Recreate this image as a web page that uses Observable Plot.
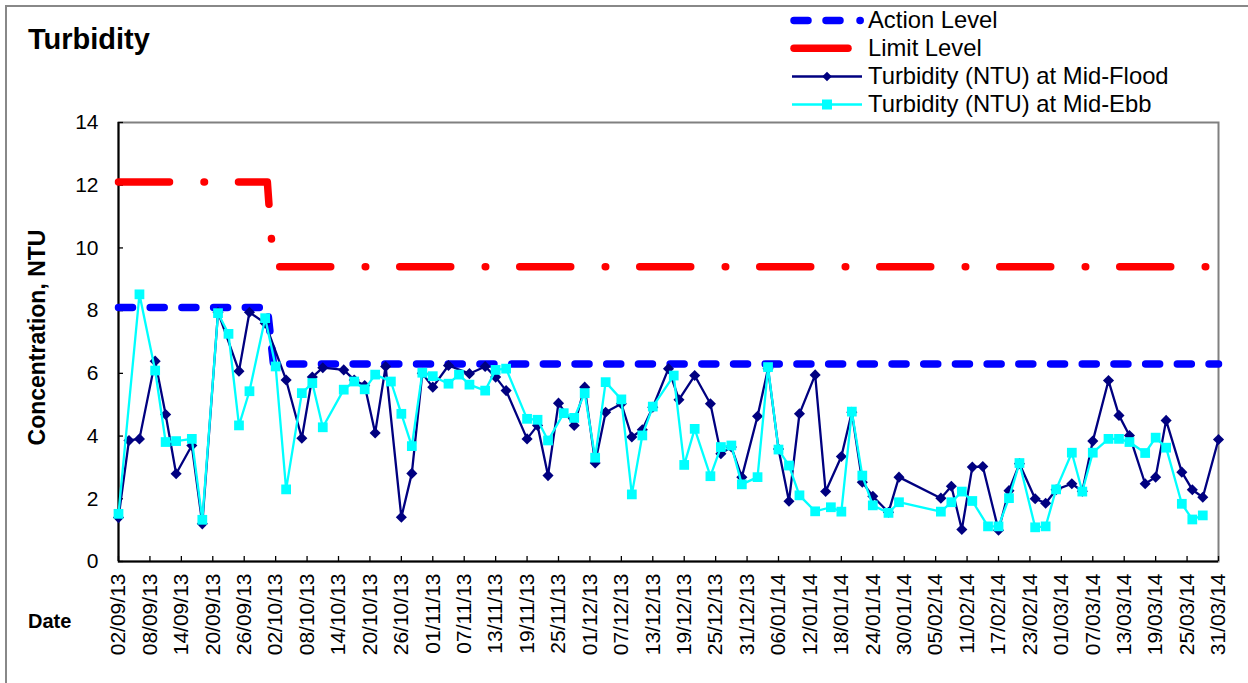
<!DOCTYPE html>
<html>
<head>
<meta charset="utf-8">
<script src="https://cdn.jsdelivr.net/npm/d3@7"></script>
<script src="https://cdn.jsdelivr.net/npm/@observablehq/plot@0.6"></script>
<style>
  body { margin: 0; background: #fff; }
  #wrap { position: relative; width: 1248px; height: 683px; overflow: hidden; font-family: Arial, "Liberation Sans", sans-serif; }
  #border { position: absolute; left: 5px; top: 5px; width: 1260px; height: 700px; border-left: 2px solid #888; border-top: 2px solid #888; }
  #chart { position: absolute; left: 0; top: 0; }
  #overlay { position: absolute; left: 0; top: 0; font-family: Arial, "Liberation Sans", sans-serif; }
</style>
</head>
<body>
<div id="wrap">
  <div id="border"></div>
  <div id="chart"></div>
  <svg id="overlay" width="1248" height="683"></svg>
</div>
<script>
// ---------- DATA ----------
const chartTitle = "Turbidity";
const yAxisTitle = "Concentration, NTU";
const xAxisTitle = "Date";

const tickLabels = ["02/09/13","08/09/13","14/09/13","20/09/13","26/09/13","02/10/13","08/10/13","14/10/13","20/10/13","26/10/13",
  "01/11/13","07/11/13","13/11/13","19/11/13","25/11/13","01/12/13","07/12/13","13/12/13","19/12/13","25/12/13","31/12/13",
  "06/01/14","12/01/14","18/01/14","24/01/14","30/01/14","05/02/14","11/02/14","17/02/14","23/02/14",
  "01/03/14","07/03/14","13/03/14","19/03/14","25/03/14","31/03/14"];
const yTicks = [0, 2, 4, 6, 8, 10, 12, 14];

const seriesNames = ["Action Level", "Limit Level", "Turbidity (NTU) at Mid-Flood", "Turbidity (NTU) at Mid-Ebb"];

const levelDates = ["2013-09-02", "2013-09-30T10:00Z", "2013-10-01T14:00Z", "2014-03-31"];
const actionLevel = [8.1, 8.1, 6.3, 6.3];
const limitLevel = [12.1, 12.1, 9.4, 9.4];

const floodDates = ["2013-09-02","2013-09-04","2013-09-06","2013-09-09","2013-09-11","2013-09-13","2013-09-16","2013-09-18","2013-09-21","2013-09-25",
  "2013-09-27","2013-09-30","2013-10-04","2013-10-07","2013-10-09","2013-10-11","2013-10-15","2013-10-17","2013-10-19","2013-10-21",
  "2013-10-23","2013-10-26","2013-10-28","2013-10-30","2013-11-01","2013-11-04","2013-11-08","2013-11-11","2013-11-13","2013-11-15",
  "2013-11-19","2013-11-21","2013-11-23","2013-11-25","2013-11-28","2013-11-30","2013-12-02","2013-12-04","2013-12-07","2013-12-09",
  "2013-12-11","2013-12-13","2013-12-16","2013-12-18","2013-12-21","2013-12-24","2013-12-26","2013-12-28","2013-12-30","2014-01-02",
  "2014-01-04","2014-01-06","2014-01-08","2014-01-10","2014-01-13","2014-01-15","2014-01-18","2014-01-20","2014-01-22","2014-01-24",
  "2014-01-27","2014-01-29","2014-02-06","2014-02-08","2014-02-10","2014-02-12","2014-02-14","2014-02-17","2014-02-19","2014-02-21",
  "2014-02-24","2014-02-26","2014-02-28","2014-03-03","2014-03-05","2014-03-07","2014-03-10","2014-03-12","2014-03-14","2014-03-17",
  "2014-03-19","2014-03-21","2014-03-24","2014-03-26","2014-03-28","2014-03-31"];
const floodValues = [1.4, 3.86, 3.91, 6.39, 4.69, 2.80, 3.70, 1.20, 7.95, 6.07,
  7.95, 7.6, 5.79, 3.93, 5.88, 6.18, 6.11, 5.79, 5.61, 4.10,
  6.22, 1.41, 2.81, 6.0, 5.56, 6.25, 5.99, 6.22, 5.88, 5.45,
  3.91, 4.34, 2.74, 5.05, 4.34, 5.56, 3.14, 4.76, 5.03, 3.97,
  4.20, 4.92, 6.15, 5.16, 5.93, 5.03, 3.44, 3.65, 2.69, 4.63,
  6.15, 3.59, 1.92, 4.71, 5.95, 2.23, 3.35, 4.76, 2.53, 2.08,
  1.57, 2.69, 2.02, 2.40, 1.02, 3.01, 3.03, 1.0, 2.26, 3.12,
  2.0, 1.86, 2.29, 2.48, 2.24, 3.84, 5.77, 4.66, 4.02, 2.48,
  2.69, 4.50, 2.85, 2.29, 2.05, 3.89];

const ebbDates = ["2013-09-02","2013-09-06","2013-09-09","2013-09-11","2013-09-13","2013-09-16","2013-09-18","2013-09-21","2013-09-23","2013-09-25",
  "2013-09-27","2013-09-30","2013-10-02","2013-10-04","2013-10-07","2013-10-09","2013-10-11","2013-10-15","2013-10-17","2013-10-19",
  "2013-10-21","2013-10-24","2013-10-26","2013-10-28","2013-10-30","2013-11-01","2013-11-04","2013-11-06","2013-11-08","2013-11-11",
  "2013-11-13","2013-11-15","2013-11-19","2013-11-21","2013-11-23","2013-11-26","2013-11-28","2013-11-30","2013-12-02","2013-12-04",
  "2013-12-07","2013-12-09","2013-12-11","2013-12-13","2013-12-17","2013-12-19","2013-12-21","2013-12-24","2013-12-26","2013-12-28",
  "2013-12-30","2014-01-02","2014-01-04","2014-01-06","2014-01-08","2014-01-10","2014-01-13","2014-01-16","2014-01-18","2014-01-20",
  "2014-01-22","2014-01-24","2014-01-27","2014-01-29","2014-02-06","2014-02-08","2014-02-10","2014-02-12","2014-02-15","2014-02-17",
  "2014-02-19","2014-02-21","2014-02-24","2014-02-26","2014-02-28","2014-03-03","2014-03-05","2014-03-07","2014-03-10","2014-03-12",
  "2014-03-14","2014-03-17","2014-03-19","2014-03-21","2014-03-24","2014-03-26","2014-03-28"];
const ebbValues = [1.52, 8.52, 6.09, 3.81, 3.84, 3.91, 1.33, 7.92, 7.26, 4.34,
  5.43, 7.76, 6.22, 2.30, 5.37, 5.69, 4.28, 5.48, 5.74, 5.49,
  5.96, 5.74, 4.71, 3.68, 6.02, 5.91, 5.67, 5.96, 5.64, 5.45,
  6.11, 6.15, 4.55, 4.52, 3.86, 4.73, 4.58, 5.37, 3.31, 5.72,
  5.17, 2.14, 4.02, 4.94, 5.93, 3.08, 4.23, 2.72, 3.65, 3.70,
  2.46, 2.69, 6.2, 3.57, 3.06, 2.11, 1.60, 1.73, 1.59, 4.78,
  2.74, 1.79, 1.55, 1.89, 1.59, 1.89, 2.23, 1.93, 1.12, 1.12,
  2.02, 3.14, 1.09, 1.12, 2.30, 3.47, 2.23, 3.47, 3.91, 3.91,
  3.81, 3.46, 3.95, 3.63, 1.84, 1.34, 1.47];

// ---------- BUILD ----------
const FONT = 'Arial, "Liberation Sans", sans-serif';
const parseTick = d3.utcParse("%d/%m/%y");
const tickDates = tickLabels.map(parseTick);
const flood = floodDates.map((d, i) => ({date: new Date(d), value: floodValues[i]}));
const ebb = ebbDates.map((d, i) => ({date: new Date(d), value: ebbValues[i]}));
const levels = levelDates.map((d, i) => ({date: new Date(d), action: actionLevel[i], limit: limitLevel[i]}));

const COLORS = {action: "#0000FF", limit: "#FF0000", flood: "#000080", ebb: "#00FFFF"};

const chart = Plot.plot({
  width: 1248,
  height: 683,
  marginLeft: 118,
  marginRight: 30,
  marginTop: 122,
  marginBottom: 122,
  style: {fontFamily: FONT, background: "transparent", color: "#000"},
  x: {type: "utc", domain: [tickDates[0], tickDates[tickDates.length - 1]], axis: null},
  y: {domain: [0, 14], axis: null},
  marks: [
    Plot.frame({stroke: "#808080", strokeWidth: 2}),
    Plot.ruleX([tickDates[0]], {stroke: "#000", strokeWidth: 2}),
    Plot.ruleY([0], {stroke: "#000", strokeWidth: 2}),
    Plot.tickX(tickDates, {x: d => d, insetTop: 434, stroke: "#000", strokeWidth: 1.3}),
    Plot.tickY(yTicks, {y: d => d, insetRight: 1095, stroke: "#000", strokeWidth: 1.3}),
    Plot.text(tickDates, {x: d => d, text: (d, i) => tickLabels[i], frameAnchor: "bottom", rotate: -90,
      textAnchor: "end", lineAnchor: "middle", dy: 12, fontSize: 21, fill: "#000"}),
    Plot.text(yTicks, {y: d => d, text: d => String(d), frameAnchor: "left", textAnchor: "end",
      lineAnchor: "middle", dx: -20, fontSize: 21, fill: "#000"}),
    Plot.line(levels, {x: "date", y: "limit", stroke: COLORS.limit, strokeWidth: 7.5,
      strokeLinecap: "round", strokeDasharray: "51 34.5 0.5 34"}),
    Plot.line(levels, {x: "date", y: "action", stroke: COLORS.action, strokeWidth: 7.5,
      strokeLinecap: "round", strokeDasharray: "14 17.7"}),
    Plot.line(flood, {x: "date", y: "value", stroke: COLORS.flood, strokeWidth: 2.3}),
    Plot.dot(flood, {x: "date", y: "value", symbol: "diamond2", r: 5, fill: COLORS.flood}),
    Plot.line(ebb, {x: "date", y: "value", stroke: COLORS.ebb, strokeWidth: 2.3}),
    Plot.dot(ebb, {x: "date", y: "value", symbol: "square", r: 5.5, fill: COLORS.ebb})
  ]
});
document.getElementById("chart").appendChild(chart);

// ---------- TITLES & LEGEND ----------
const ov = d3.select("#overlay");
ov.append("text").attr("x", 28).attr("y", 49).attr("font-size", 29).attr("font-weight", "bold")
  .attr("font-family", FONT).text(chartTitle);
ov.append("text").attr("transform", "translate(45,337.5) rotate(-90)").attr("text-anchor", "middle")
  .attr("font-size", 23).attr("font-weight", "bold").attr("font-family", FONT).text(yAxisTitle);
ov.append("text").attr("x", 28).attr("y", 628).attr("font-size", 20).attr("font-weight", "bold")
  .attr("font-family", FONT).text(xAxisTitle);

const rowY = [20.5, 48.3, 76.5, 104.5];
const lg = ov.append("g");
// Action level swatch
lg.append("path").attr("d", `M794,${rowY[0]}H808M826,${rowY[0]}H840M860,${rowY[0]}H860.2`)
  .attr("stroke", COLORS.action).attr("stroke-width", 7.5).attr("stroke-linecap", "round").attr("fill", "none");
// Limit level swatch
lg.append("path").attr("d", `M794,${rowY[1]}H848`)
  .attr("stroke", COLORS.limit).attr("stroke-width", 7.5).attr("stroke-linecap", "round").attr("fill", "none");
// Flood swatch
lg.append("path").attr("d", `M792,${rowY[2]}H862`).attr("stroke", COLORS.flood).attr("stroke-width", 2.3);
lg.append("path").attr("d", `M827,${rowY[2] - 4.8}L831.8,${rowY[2]}L827,${rowY[2] + 4.8}L822.2,${rowY[2]}Z`).attr("fill", COLORS.flood);
// Ebb swatch
lg.append("path").attr("d", `M792,${rowY[3]}H862`).attr("stroke", COLORS.ebb).attr("stroke-width", 2.3);
lg.append("rect").attr("x", 827 - 5).attr("y", rowY[3] - 5).attr("width", 10).attr("height", 10).attr("fill", COLORS.ebb);
seriesNames.forEach((name, i) => {
  lg.append("text").attr("x", 868).attr("y", rowY[i] + 7.8).attr("font-size", 23.8)
    .attr("font-family", FONT).attr("fill", "#000").text(name);
});
</script>
</body>
</html>
